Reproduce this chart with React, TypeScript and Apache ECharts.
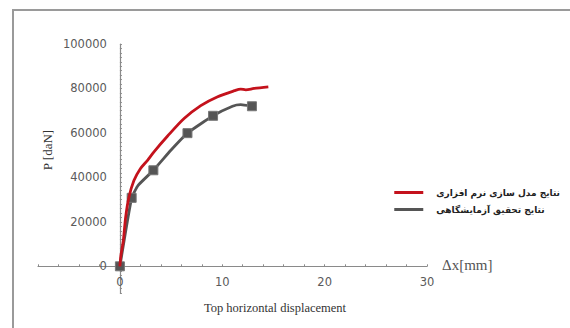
import React, { useEffect, useRef } from "react";
import * as echarts from "echarts";

const softwareX = [0, 0.1, 0.33, 0.56, 0.88, 1.37, 2.0, 2.7, 3.33, 4.64, 6.27, 7.9, 9.5, 11.2, 11.8, 12.3, 13.1, 14.5];
const softwareY = [0, 5000, 11400, 22000, 31000, 38600, 43900, 47700, 51500, 58500, 66500, 72300, 76200, 79000, 79700, 79400, 80000, 80700];

const labX = [0, 1.15, 1.8, 3.27, 5.0, 6.6, 9.1, 11.0, 11.8, 12.9];
const labY = [0, 30800, 36500, 43200, 52300, 59900, 67700, 72000, 72700, 72000];
const labMarker = [true, true, false, true, false, true, true, false, false, true];

const legendNames = ["نتایج مدل سازی نرم افزاری", "نتایج تحقیق آزمایشگاهی"];
const xLabelValues = [0, 10, 20, 30];
const yLabelValues = [0, 20000, 40000, 60000, 80000, 100000];

const X_MIN = -8;
const X_MAX = 30;
const Y_MIN = -12000;
const Y_MAX = 100000;
const GRID = { left: 38, right: 143, top: 44, bottom: 35 };
const W = 570;
const H = 328;

export default function App() {
  const ref = useRef<HTMLDivElement>(null);
  useEffect(() => {
    if (!ref.current) return;
    const chart = echarts.init(ref.current, null, { renderer: "svg" });
    const labelFont = { color: "#5a5a5a", fontSize: 11.5, fontFamily: "DejaVu Sans" };
    const gw = W - GRID.left - GRID.right;
    const gh = H - GRID.top - GRID.bottom;
    // shift axes so they cross at the data origin
    const xOffset = -((0 - Y_MIN) / (Y_MAX - Y_MIN)) * gh;
    const yOffset = -((0 - X_MIN) / (X_MAX - X_MIN)) * gw;
    chart.setOption({
      animation: false,
      backgroundColor: "#ffffff",
      grid: { ...GRID, outerBoundsMode: "none" },
      xAxis: {
        type: "value",
        min: X_MIN,
        max: X_MAX,
        interval: 2,
        position: "bottom",
        offset: xOffset,
        axisLine: { onZero: false, lineStyle: { color: "#8a8a8a", width: 1.2 } },
        axisTick: { show: true, inside: true, length: 2, lineStyle: { color: "#8a8a8a" } },
        splitLine: { show: false },
        axisLabel: {
          ...labelFont,
          margin: 10,
          showMinLabel: true,
          showMaxLabel: true,
          formatter: (v: number) => (xLabelValues.includes(v) ? String(v) : ""),
        },
      },
      yAxis: {
        type: "value",
        min: Y_MIN,
        max: Y_MAX,
        interval: 2000,
        position: "left",
        offset: yOffset,
        axisLine: { show: true, onZero: false, lineStyle: { color: "#8a8a8a", width: 1.2 } },
        axisTick: { show: true, inside: true, length: 2, lineStyle: { color: "#8a8a8a" } },
        splitLine: { show: false },
        axisLabel: {
          ...labelFont,
          margin: 13,
          formatter: (v: number) => (yLabelValues.includes(v) ? String(v) : ""),
        },
      },
      legend: {
        orient: "vertical",
        right: 5,
        top: 183,
        align: "left",
        itemWidth: 29,
        itemHeight: 3,
        itemGap: 8,
        icon: "rect",
        itemStyle: { borderWidth: 0 },
        data: legendNames,
        textStyle: {
          fontFamily: "DejaVu Sans",
          fontWeight: "bold",
          fontSize: 9,
          color: "#222",
          padding: [0, 0, 0, 8],
        },
      },
      graphic: [
        {
          type: "rect",
          shape: { x: 13, y: 10, width: 700, height: 500 },
          style: { fill: "none", stroke: "#9a9a9a", lineWidth: 2 },
          silent: true,
        },
        {
          type: "text",
          x: 47,
          y: 150,
          rotation: Math.PI / 2,
          style: {
            text: "P [daN]",
            fontFamily: "Liberation Serif",
            fontSize: 13,
            fill: "#333",
            align: "center",
            verticalAlign: "middle",
          },
        },
        {
          type: "text",
          x: 275,
          y: 308,
          style: {
            text: "Top horizontal displacement",
            fontFamily: "Liberation Serif",
            fontSize: 12.5,
            fill: "#333",
            align: "center",
            verticalAlign: "middle",
          },
        },
        {
          type: "text",
          x: 442,
          y: 265,
          style: {
            text: "Δx[mm]",
            fontFamily: "Liberation Serif",
            fontSize: 15,
            fill: "#555",
            align: "left",
            verticalAlign: "middle",
          },
        },
      ],
      series: [
        {
          name: legendNames[1],
          type: "line",
          data: labX.map((x, i) => ({
            value: [x, labY[i]],
            symbol: labMarker[i] ? "rect" : "none",
          })),
          symbolSize: 9,
          showSymbol: true,
          smooth: 0.15,
          lineStyle: { color: "#555555", width: 2.8 },
          itemStyle: { color: "#555555", borderColor: "#777", borderWidth: 1 },
          z: 2,
        },
        {
          name: legendNames[0],
          type: "line",
          data: softwareX.map((x, i) => [x, softwareY[i]]),
          symbol: "none",
          smooth: 0.3,
          lineStyle: { color: "#c4121c", width: 2.8 },
          itemStyle: { color: "#c4121c" },
          z: 3,
        },
      ],
    });
    return () => chart.dispose();
  }, []);
  return (
    <div
      ref={ref}
      style={{ position: "absolute", left: 0, top: 0, width: W, height: H }}
    />
  );
}
